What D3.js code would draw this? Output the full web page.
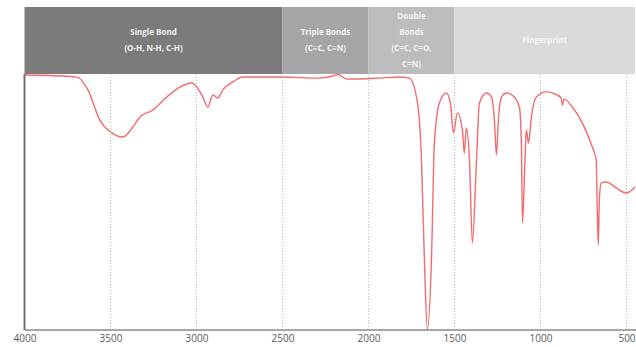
<!DOCTYPE html>
<html>
<head>
<meta charset="utf-8">
<script src="https://cdn.jsdelivr.net/npm/d3@7"></script>
<style>
  html, body { margin: 0; padding: 0; background: #fff; }
  svg { display: block; }
</style>
</head>
<body>
<div id="chart"></div>
<script>
// IR spectrum (wavenumber cm-1, % transmittance)
const wavenumbers = [4000, 3852, 3695, 3631, 3562, 3492, 3428, 3370, 3329, 3254, 3173, 3097, 3027, 2998,
  2963, 2934, 2905, 2876, 2847, 2789, 2731, 2504, 2284, 2208, 2179, 2127, 1936, 1820, 1762, 1715,
  1692, 1675, 1658, 1634, 1617, 1588, 1547, 1524, 1506, 1483, 1454, 1443, 1431, 1413, 1396, 1372,
  1355, 1314, 1285, 1268, 1256, 1245, 1227, 1198, 1152, 1123, 1111, 1105, 1088, 1082, 1070, 1053,
  1024, 966, 931, 879, 873, 862, 815, 757, 699, 676, 670, 664, 658, 647, 618, 560, 502, 450];
const transmittance = [99.6, 99.4, 98.8, 93.8, 82.0, 77.0, 75.4, 79.3, 83.2, 85.9, 91.0, 94.9, 96.5, 94.9,
  91.0, 87.1, 91.8, 90.6, 93.8, 96.9, 98.8, 98.8, 98.4, 99.2, 99.8, 98.0, 98.4, 98.8, 98.4, 88.7,
  66.4, 27.3, 0.4, 27.3, 73.0, 88.7, 92.6, 88.7, 77.0, 84.8, 78.1, 69.1, 78.9, 66.4, 34.0, 66.4,
  88.7, 92.6, 91.0, 82.0, 68.4, 82.0, 91.0, 92.6, 91.0, 87.1, 73.0, 41.8, 70.3, 78.1, 73.0, 83.2,
  91.0, 93.0, 92.6, 90.6, 87.9, 90.2, 87.1, 80.9, 71.5, 66.4, 46.9, 33.2, 50.8, 57.4, 57.8, 55.5, 53.5, 55.9];

const tickValues = [4000, 3500, 3000, 2500, 2000, 1500, 1000, 500];

// region bands across the top
const bandNames = ["single", "triple", "double", "fingerprint"];
const bandStarts = [4000, 2500, 2000, 1500];
const bandEnds = [2500, 2000, 1500, 450];
const bandLabels = [
  ["Single Bond", "(O-H, N-H, C-H)"],
  ["Triple Bonds", "(C≡C, C≡N)"],
  ["Double", "Bonds", "(C=C, C=O,", "C=N)"],
  ["Fingerprint"]
];
const bandColors = ["#7b7b7b", "#a5a5a5", "#bdbdbd", "#d9d9d9"];

const width = 636, height = 347;
const plotTop = 74, plotBottom = 330, bandTop = 7;

const x = d3.scaleLinear().domain([4000, 500]).range([24.5, 626.5]);
const y = d3.scaleLinear().domain([0, 100]).range([plotBottom, plotTop]);

const svg = d3.select("#chart").append("svg")
  .attr("width", width)
  .attr("height", height);

// bands
const bands = bandNames.map((n, i) => ({
  name: n, start: bandStarts[i], end: bandEnds[i], lines: bandLabels[i], color: bandColors[i]
}));

svg.append("g").selectAll("rect")
  .data(bands)
  .join("rect")
  .attr("x", d => x(d.start))
  .attr("y", bandTop)
  .attr("width", d => x(d.end) - x(d.start))
  .attr("height", plotTop - bandTop)
  .attr("fill", d => d.color);

const lineH = 16;
svg.append("g").selectAll("text")
  .data(bands)
  .join("text")
  .attr("x", d => (x(d.start) + Math.min(x(d.end), width)) / 2)
  .attr("text-anchor", "middle")
  .attr("font-family", "'Open Sans', sans-serif")
  .attr("font-size", 8)
  .attr("font-weight", "bold")
  .attr("fill", d => d.name === "fingerprint" ? "#f4f4f4" : "#f2f2f2")
  .each(function (d) {
    const mid = (bandTop + plotTop) / 2;
    const y0 = mid - (d.lines.length - 1) * lineH / 2;
    d3.select(this).selectAll("tspan")
      .data(d.lines)
      .join("tspan")
      .attr("x", (x(d.start) + Math.min(x(d.end), width)) / 2)
      .attr("y", (t, i) => y0 + i * lineH)
      .attr("dy", "0.35em")
      .text(t => t);
  });

// dotted grid
svg.append("g").selectAll("line")
  .data(tickValues.slice(1))
  .join("line")
  .attr("x1", d => x(d)).attr("x2", d => x(d))
  .attr("y1", plotTop).attr("y2", plotBottom)
  .attr("stroke", "#bdbdbd")
  .attr("stroke-width", 1)
  .attr("stroke-dasharray", "1,2");

// spectrum
const pts = wavenumbers.map((w, i) => [w, transmittance[i]]);
const line = d3.line()
  .x(d => x(d[0]))
  .y(d => y(d[1]))
  .curve(d3.curveMonotoneX);

svg.append("path")
  .datum(pts)
  .attr("fill", "none")
  .attr("stroke", "#f26b6e")
  .attr("stroke-width", 1.4)
  .attr("stroke-linejoin", "round")
  .attr("d", line);

// axes lines
svg.append("line")
  .attr("x1", x(4000)).attr("x2", x(4000))
  .attr("y1", plotTop).attr("y2", plotBottom)
  .attr("stroke", "#707070").attr("stroke-width", 2);

const xAxis = d3.axisBottom(x).tickValues(tickValues).tickSize(0).tickPadding(5)
  .tickFormat(d3.format("d"));
const gx = svg.append("g")
  .attr("transform", `translate(0,${plotBottom})`)
  .call(xAxis);
gx.select(".domain")
  .attr("d", `M${x(4000)},0H${width}`)
  .attr("stroke", "#8a8a8a").attr("stroke-width", 1.5);
gx.selectAll("text")
  .attr("font-family", "'Open Sans', sans-serif")
  .attr("font-size", 10)
  .attr("fill", "#595959");
</script>
</body>
</html>
